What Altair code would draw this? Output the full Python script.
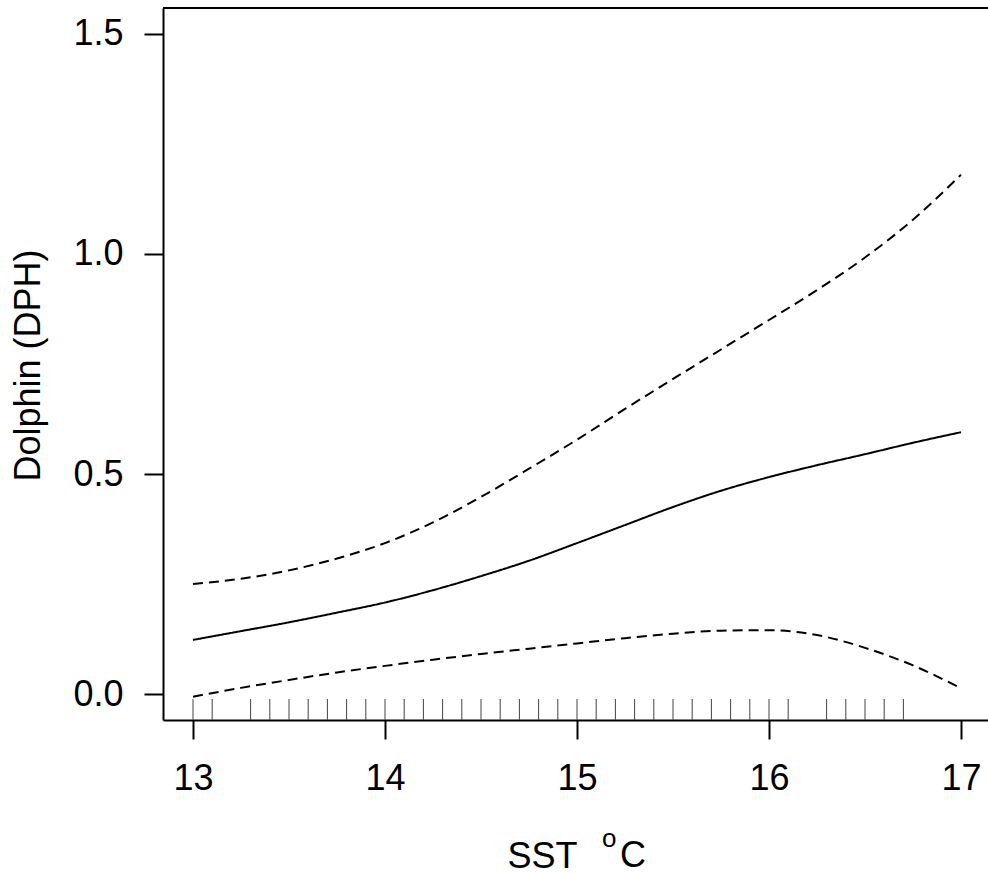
import altair as alt
import pandas as pd

# SST grid (°C) and fitted smooth with confidence band
sst = [13.0, 13.25, 13.5, 13.75, 14.0, 14.25, 14.5, 14.75, 15.0,
       15.25, 15.5, 15.75, 16.0, 16.25, 16.5, 16.75, 17.0]
fit = [0.123, 0.143, 0.163, 0.185, 0.208, 0.236, 0.268, 0.303, 0.343,
       0.384, 0.425, 0.462, 0.493, 0.520, 0.545, 0.571, 0.595]
upper = [0.250, 0.262, 0.281, 0.308, 0.343, 0.390, 0.448, 0.512, 0.578,
         0.648, 0.716, 0.783, 0.850, 0.918, 0.992, 1.078, 1.180]
lower = [-0.006, 0.014, 0.032, 0.049, 0.064, 0.078, 0.091, 0.103, 0.115,
         0.127, 0.137, 0.144, 0.145, 0.134, 0.105, 0.065, 0.013]

# Rug of observed SST values
rug_sst = [13.0, 13.1, 13.3, 13.4, 13.5, 13.6, 13.7, 13.8, 13.9, 14.0,
           14.1, 14.2, 14.3, 14.4, 14.5, 14.6, 14.7, 14.8, 14.9, 15.0,
           15.1, 15.2, 15.3, 15.4, 15.5, 15.6, 15.7, 15.8, 15.9, 16.0,
           16.1, 16.3, 16.4, 16.5, 16.6, 16.7]

x_ticks = [13, 14, 15, 16, 17]
y_ticks = [0.0, 0.5, 1.0, 1.5]

W, H = 825, 712
FONT = "Liberation Sans"

df = pd.DataFrame({"sst": sst, "fit": fit, "upper": upper, "lower": lower})
rug_df = pd.DataFrame({"sst": rug_sst})

x_scale = alt.Scale(domain=[12.84375, 17.140625], nice=False, zero=False)
y_scale = alt.Scale(domain=[-0.059, 1.559], nice=False, zero=False)

x_axis = alt.Axis(values=x_ticks, title="SST", format="d",
                  labelBaseline="alphabetic", labelPadding=50,
                  titleX=344, titleY=147, titleBaseline="alphabetic",
                  titleAlign="left", labelFlush=False)
y_axis = alt.Axis(values=y_ticks, title="Dolphin (DPH)", format=".1f",
                  labelPadding=21, titleX=-123.5, titleY=357,
                  titleAngle=270, titleBaseline="alphabetic",
                  titleAlign="center", labelFlush=False)

lines = alt.Chart(df).transform_fold(
    ["fit", "upper", "lower"], as_=["series", "value"]
).mark_line(color="black", strokeWidth=2, interpolate="monotone").encode(
    x=alt.X("sst:Q", scale=x_scale, axis=x_axis),
    y=alt.Y("value:Q", scale=y_scale, axis=y_axis),
    detail="series:N",
    strokeDash=alt.StrokeDash(
        "series:N",
        scale=alt.Scale(domain=["fit", "upper", "lower"],
                        range=[[1, 0], [10, 6], [10, 6]]),
        legend=None,
    ),
)

rug = alt.Chart(rug_df).mark_rule(color="#444444", strokeWidth=1).encode(
    x=alt.X("sst:Q", scale=x_scale, axis=x_axis),
    y=alt.value(H),
    y2=alt.value(H - 21),
)

top_border = alt.Chart(alt.Data(values=[{}])).mark_rule(
    color="black", strokeWidth=2
).encode(x=alt.value(0), x2=alt.value(W), y=alt.value(0))

# Unit part of the x-axis title: superscript "o" followed by "C"
unit_o = alt.Chart(alt.Data(values=[{"t": "o"}])).mark_text(
    font=FONT, fontSize=26, color="black", align="left", baseline="alphabetic"
).encode(x=alt.value(439), y=alt.value(839), text="t:N")
unit_c = alt.Chart(alt.Data(values=[{"t": "C"}])).mark_text(
    font=FONT, fontSize=36, color="black", align="left", baseline="alphabetic"
).encode(x=alt.value(457), y=alt.value(859), text="t:N")

chart = alt.layer(lines, rug, top_border, unit_o, unit_c).properties(
    width=W,
    height=H,
    autosize=alt.AutoSizeParams(type="none"),
    padding={"left": 163, "top": 8, "right": 0, "bottom": 154},
    background="white",
).configure_view(stroke=None).configure_axis(
    grid=False,
    domainColor="black", domainWidth=2,
    tickColor="black", tickWidth=2, tickSize=19,
    labelFont=FONT, labelFontSize=36, labelColor="black",
    titleFont=FONT, titleFontSize=36, titleFontWeight="normal",
    titleColor="black",
)

chart.save("out.html", embed_options={"renderer": "svg", "actions": False})
